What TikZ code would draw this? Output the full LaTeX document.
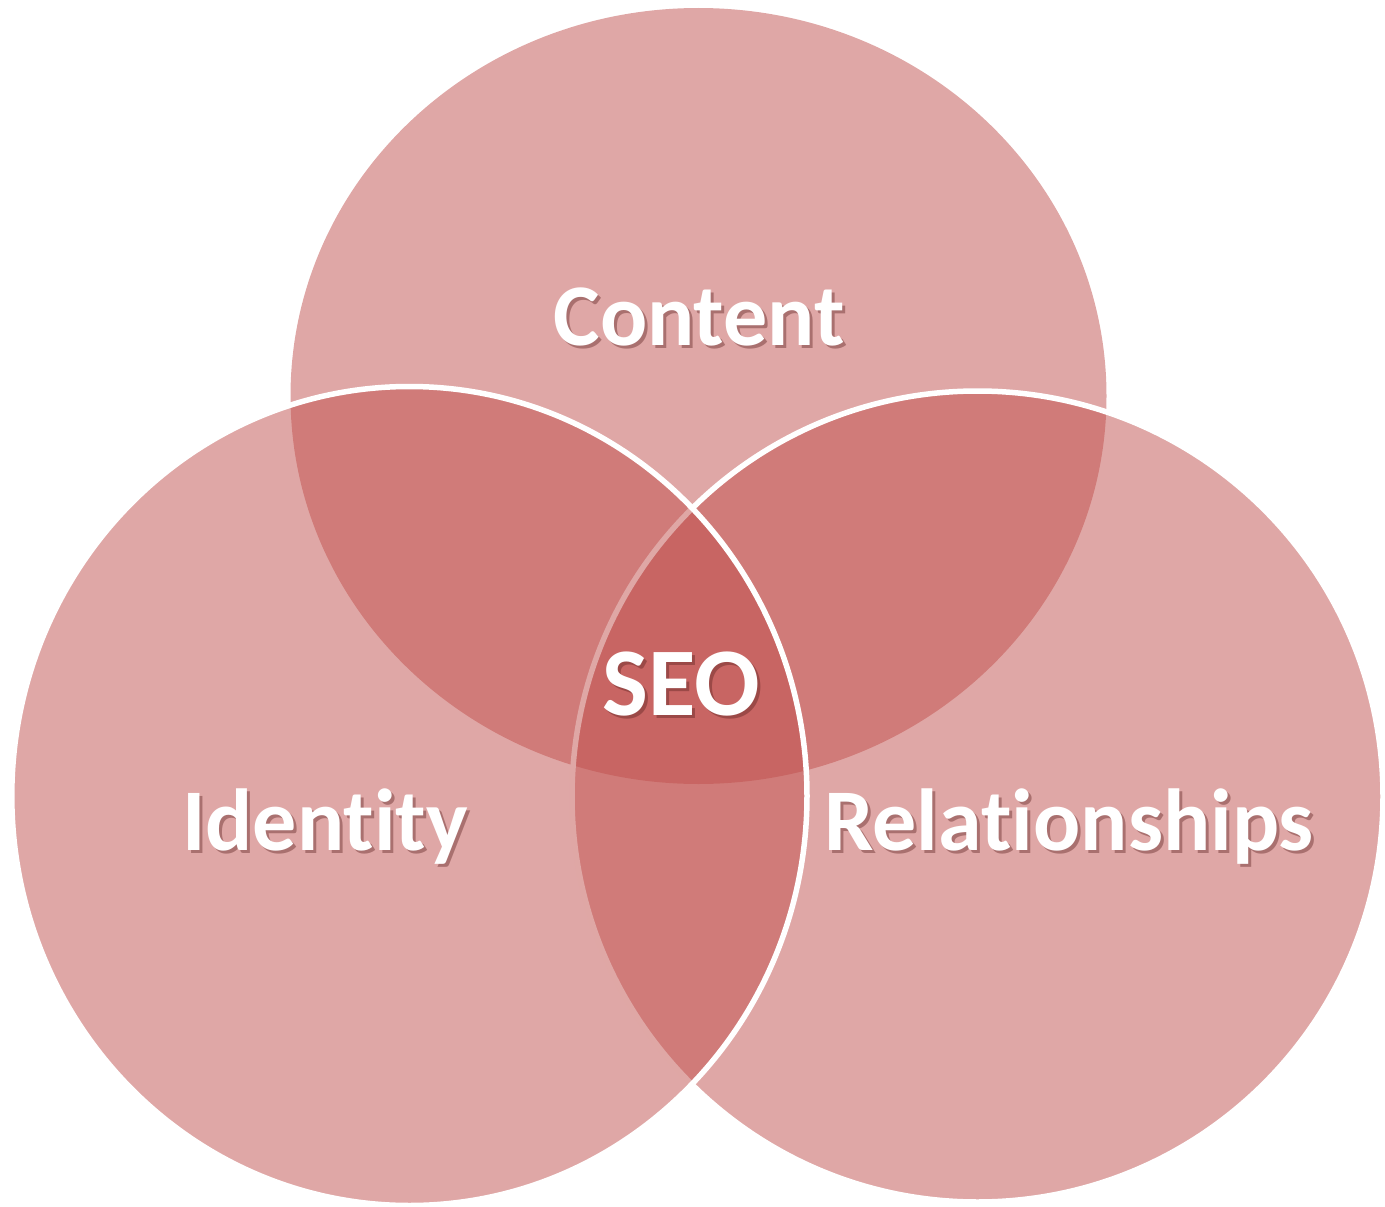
\documentclass[tikz,border=0pt]{standalone}
\usepackage{fontspec}
\setmainfont{Carlito}[Ligatures={NoCommon,NoRare,NoContextual}]
\definecolor{seored}{RGB}{192,80,77}
\definecolor{seoshade}{RGB}{90,30,30}

\tikzset{
	venn/.style={fill=seored, fill opacity=0.5},
	rim/.style={draw=white, line width=5.5pt},
	word/.style={text=white, font=\bfseries\fontsize{88}{100}\selectfont, anchor=base, inner sep=0pt},
	bigword/.style={word, font=\bfseries\fontsize{97}{110}\selectfont},
	shadow/.style={text=seoshade, text opacity=0.4}
}

\begin{document}
\begin{tikzpicture}[x=1pt, y=-1pt]
	\useasboundingbox (0,0) rectangle (1385,1207);

	% the three sets
	\fill [venn] (698.5,396) ellipse [x radius=408pt, y radius=388pt];
	\filldraw [venn, rim] (977.5,796.5) ellipse [x radius=405.5pt, y radius=405.5pt];
	\filldraw [venn, rim] (409.4,796) ellipse [x radius=397.6pt, y radius=409.5pt];

	% labels
	\node [word, shadow] (content-sh) at (702,348) {Content};
	\node [word] (content) at (699,345) {Content};
	\node [word, shadow] (identity-sh) at (328,853) {Identity};
	\node [word] (identity) at (325,850) {Identity};
	\node [word, shadow] (relations-sh) at (1072,853) {Relationships};
	\node [word] (relations) at (1069,850) {Relationships};
	\node [bigword, shadow] (seo-sh) at (684,718) {SEO};
	\node [bigword] (seo) at (681,715) {SEO};
\end{tikzpicture}
\end{document}
